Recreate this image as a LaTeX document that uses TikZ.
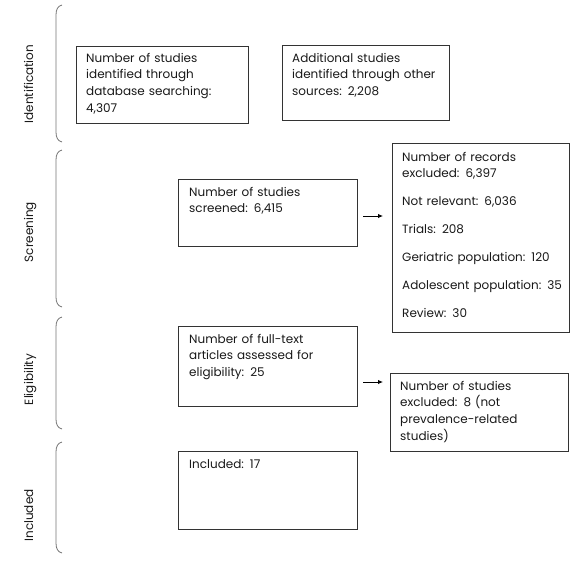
\documentclass[tikz,border=0pt]{standalone}
\usepackage{fontspec}
\setmainfont{Poppins}
\usetikzlibrary{arrows.meta}
\newcommand\prismabrk[2]{%
  \draw[brk] (62,#1) .. controls (58,#1+1) and (56,#1+4) .. (56,#1+10)
    -- (56,#2-10) .. controls (56,#2-4) and (58,#2-1) .. (62,#2);}
\begin{document}
\begin{tikzpicture}[x=1pt,y=-1pt,
  box/.style={draw=black!80,line width=0.9pt,inner sep=0pt,anchor=north west},
  txt/.style={anchor=base west,inner sep=0pt,text width=175pt,align=left,
    font=\fontsize{12}{16.7}\selectfont,text=black!90},
  lab/.style={rotate=90,anchor=base,inner sep=0pt,font=\fontsize{12}{14}\selectfont,text=black!90},
  brk/.style={draw=black!55,line width=0.8pt},
  arr/.style={-{Latex[length=5pt,width=4.5pt]},line width=0.9pt,black}]
\useasboundingbox (0,0) rectangle (588,573);
% brackets
\prismabrk{5}{142}
\prismabrk{150}{307}
\prismabrk{317}{429}
\prismabrk{442}{553}
\node[lab] (l1) at (33,84) {Identification};
\node[lab] (l2) at (33,232) {Screening};
\node[lab] (l3) at (33,379.5) {Eligibility};
\node[lab] (l4) at (33,515.5) {Included};
% boxes
\node[box,minimum width=172pt,minimum height=77pt] (b1) at (76,46) {};
\node[box,minimum width=167pt,minimum height=75pt] (b2) at (282,45) {};
\node[box,minimum width=179pt,minimum height=67pt] (b3) at (178,179) {};
\node[box,minimum width=177pt,minimum height=189pt] (b4) at (392,143) {};
\node[box,minimum width=179pt,minimum height=80pt] (b5) at (178,326) {};
\node[box,minimum width=178pt,minimum height=78pt] (b6) at (390,373) {};
\node[box,minimum width=179pt,minimum height=78pt] (b7) at (178,451) {};
% texts
\node[txt] (t1) at (86,62) {Number of studies\\identified through\\database searching:\\4,307};
\node[txt] (t2) at (292,62) {Additional studies\\identified through other\\sources: 2,208};
\node[txt] (t3) at (189,196) {Number of studies\\screened: 6,415};
\node[txt] (t4) at (402,161) {Number of records\\excluded: 6,397\\[11.3pt]Not relevant: 6,036\\[11.3pt]Trials: 208\\[11.3pt]Geriatric population: 120\\[11.3pt]Adolescent population: 35\\[11.3pt]Review: 30};
\node[txt] (t5) at (189,343) {Number of full-text\\articles assessed for\\eligibility: 25};
\node[txt] (t6) at (400,390) {Number of studies\\excluded: 8 (not\\prevalence-related\\studies)};
\node[txt] (t7) at (189,468) {Included: 17};
% arrows
\coordinate (a1s) at (363,216);
\coordinate (a1e) at (383,216);
\coordinate (a2s) at (363,382);
\coordinate (a2e) at (383,382);
\draw[arr] (a1s) -- (a1e);
\draw[arr] (a2s) -- (a2e);
\end{tikzpicture}
\end{document}
